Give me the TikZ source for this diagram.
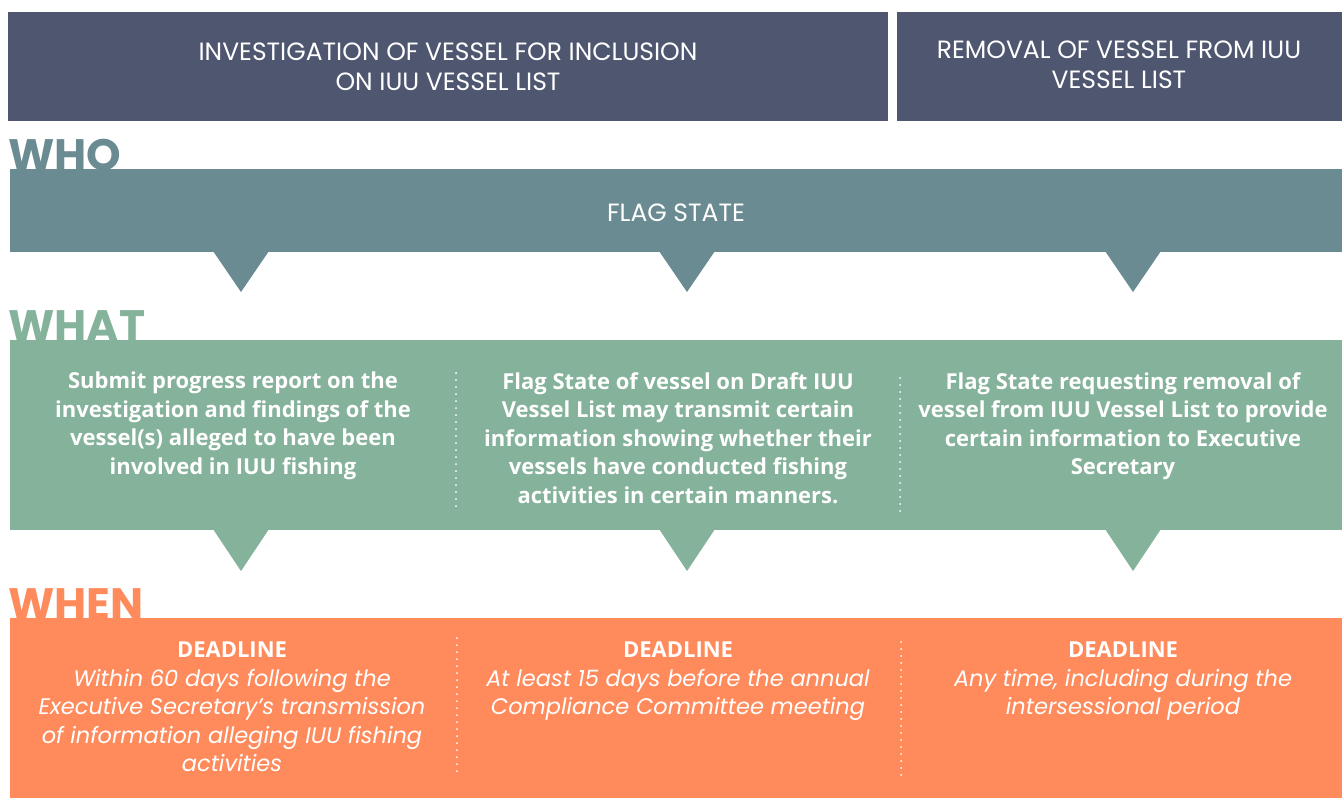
\documentclass[tikz,border=0pt]{standalone}
\usepackage{fontspec}
\setmainfont{Open Sans}
\newfontfamily\geofont{Poppins}
\usetikzlibrary{calc}
\definecolor{headc}{HTML}{4F5670}
\definecolor{whoc}{HTML}{6A8B92}
\definecolor{whatc}{HTML}{84B29A}
\definecolor{whenc}{HTML}{FF8B5C}
\tikzset{
  band/.style={rectangle, inner sep=0pt, outer sep=0pt, anchor=north west},
  headtxt/.style={text=white, align=center, font=\geofont\fontsize{25}{30}\selectfont},
  rowlabel/.style={anchor=base west, inner sep=0pt, font=\geofont\bfseries\fontsize{44}{44}\selectfont},
  bodytxt/.style={text=white, align=center, inner sep=0pt, anchor=north, font=\fontsize{22}{28.5}\selectfont},
  sep/.style={white, line width=2pt, line cap=round, dash pattern=on 0pt off 7pt},
}
\newcommand{\itl}{\geofont\itshape\fontsize{22.5}{28.5}\selectfont}
\begin{document}
\begin{tikzpicture}[x=1pt,y=-1pt]
\useasboundingbox (0,0) rectangle (1344,798);
% header
\node[band, fill=headc, minimum width=880pt, minimum height=109pt] (h1) at (8,12) {};
\node[band, fill=headc, minimum width=445pt, minimum height=109pt] (h2) at (897,12) {};
\node[headtxt] (h1t) at (448,67) {INVESTIGATION OF VESSEL FOR INCLUSION\\ON IUU VESSEL LIST};
\node[headtxt] (h2t) at (1119,65) {REMOVAL OF VESSEL FROM IUU\\VESSEL LIST};
% WHO
\node[rowlabel, text=whoc] (wholab) at (8,170) {WHO};
\node[band, fill=whoc, minimum width=1332pt, minimum height=83pt] (who) at (10,169) {};
\node[headtxt] (flag) at (676,213) {FLAG STATE};
\foreach \cx in {241,687,1133}{
  \fill[whoc] (\cx-28,251) -- (\cx+28,251) -- (\cx,292) -- cycle;
}
% WHAT
\node[rowlabel, text=whatc] (whatlab) at (8,341) {WHAT};
\node[band, fill=whatc, minimum width=1332pt, minimum height=190pt] (what) at (10,340) {};
\foreach \cx in {241,687,1133}{
  \fill[whatc] (\cx-28,529) -- (\cx+28,529) -- (\cx,571) -- cycle;
}
\node[bodytxt] (w1) at (233,372) {\bfseries Submit progress report on the\\\bfseries investigation and findings of the\\\bfseries vessel(s) alleged to have been\\\bfseries involved in IUU fishing};
\node[bodytxt] (w2) at (678,372) {\bfseries Flag State of vessel on Draft IUU\\\bfseries Vessel List may transmit certain\\\bfseries information showing whether their\\\bfseries vessels have conducted fishing\\\bfseries activities in certain manners.};
\node[bodytxt] (w3) at (1123,372) {\bfseries Flag State requesting removal of\\\bfseries vessel from IUU Vessel List to provide\\\bfseries certain information to Executive\\\bfseries Secretary};
\coordinate (d1a) at (456,373); \coordinate (d1b) at (456,508);
\coordinate (d2a) at (900,378); \coordinate (d2b) at (900,515);
\draw[sep] (d1a) -- (d1b);
\draw[sep] (d2a) -- (d2b);
% WHEN
\node[rowlabel, text=whenc] (whenlab) at (8,619) {WHEN};
\node[band, fill=whenc, minimum width=1332pt, minimum height=180pt] (when) at (10,618) {};
\node[bodytxt] (n1) at (232,642) {\bfseries DEADLINE\\\itl Within 60 days following the\\\itl Executive Secretary’s transmission\\\itl of information alleging IUU fishing\\\itl activities};
\node[bodytxt] (n2) at (678,642) {\bfseries DEADLINE\\\itl At least 15 days before the annual\\\itl Compliance Committee meeting};
\node[bodytxt] (n3) at (1123,642) {\bfseries DEADLINE\\\itl Any time, including during the\\\itl intersessional period};
\coordinate (e1a) at (457,638); \coordinate (e1b) at (457,772);
\coordinate (e2a) at (901,642); \coordinate (e2b) at (901,776);
\draw[sep] (e1a) -- (e1b);
\draw[sep] (e2a) -- (e2b);
\end{tikzpicture}
\end{document}
